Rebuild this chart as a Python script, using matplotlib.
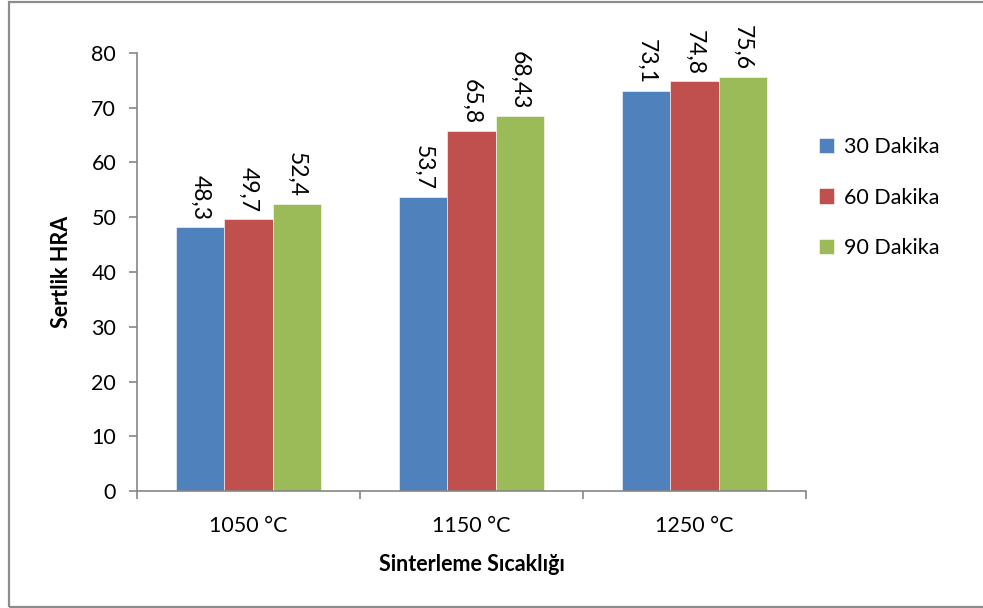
import matplotlib.pyplot as plt
import numpy as np
from matplotlib.patches import Rectangle

plt.rcParams['font.family'] = ['Lato', 'DejaVu Sans']

# Sertlik değerleri (HRA)
sicakliklar = ['1050 °C', '1150 °C', '1250 °C']
sure_30 = [48.3, 53.7, 73.1]
sure_60 = [49.7, 65.8, 74.8]
sure_90 = [52.4, 68.43, 75.6]
seriler = ['30 Dakika', '60 Dakika', '90 Dakika']
etiket_30 = ['48,3', '53,7', '73,1']
etiket_60 = ['49,7', '65,8', '74,8']
etiket_90 = ['52,4', '68,43', '75,6']

renkler = ['#4F81BD', '#C0504D', '#9BBB59']
eksen_rengi = '#868686'
fs = 15.5

fig = plt.figure(figsize=(9.83, 6.08), dpi=100)
ax = fig.add_axes([137 / 983, 117 / 608, 669 / 983, 438 / 608])

# grafik alanının çerçevesi
fig.patches.append(Rectangle((8.5 / 983, 1.5 / 608), 1.2, 604.5 / 608,
                             transform=fig.transFigure, fill=False,
                             edgecolor='#8c8c8c', linewidth=1.6))

x = np.arange(len(sicakliklar))
w = 0.216
degerler = [sure_30, sure_60, sure_90]
etiketler = [etiket_30, etiket_60, etiket_90]
for i, (vals, labs) in enumerate(zip(degerler, etiketler)):
    pos = x + (i - 1) * w
    ax.bar(pos, vals, width=w, color=renkler[i], edgecolor='white',
           linewidth=0.4, label=seriler[i], zorder=2)
    for px, v, t in zip(pos, vals, labs):
        ax.annotate(t, (px, v), xytext=(0, 5), textcoords='offset points',
                    rotation=-90, ha='center', va='bottom', fontsize=16.5)

ax.set_xlim(-0.5, 2.5)
ax.set_ylim(0, 80)
ax.set_yticks(range(0, 81, 10))
ax.set_xticks(x)
ax.set_xticklabels(sicakliklar)
ax.set_xticks([-0.5, 0.5, 1.5, 2.5], minor=True)

for s in ['top', 'right']:
    ax.spines[s].set_visible(False)
for s in ['left', 'bottom']:
    ax.spines[s].set_color(eksen_rengi)
    ax.spines[s].set_linewidth(1.2)

ax.tick_params(axis='y', length=6, width=1.2, color=eksen_rengi,
               labelsize=fs, pad=9)
ax.tick_params(axis='x', which='major', length=0, labelsize=fs, pad=18)
ax.tick_params(axis='x', which='minor', length=6, width=1.2,
               color=eksen_rengi)

ax.set_ylabel('Sertlik HRA', fontsize=fs, fontweight='bold', labelpad=14)
ax.set_xlabel('Sinterleme Sıcaklığı', fontsize=fs, fontweight='bold',
              labelpad=13)

ax.legend(loc='center left', bbox_to_anchor=(1.0, 0.67), frameon=False,
          fontsize=fs, handlelength=0.7, handleheight=0.7,
          handletextpad=0.45, labelspacing=1.42, borderaxespad=0.2)

fig.savefig('out.png', dpi=100)
